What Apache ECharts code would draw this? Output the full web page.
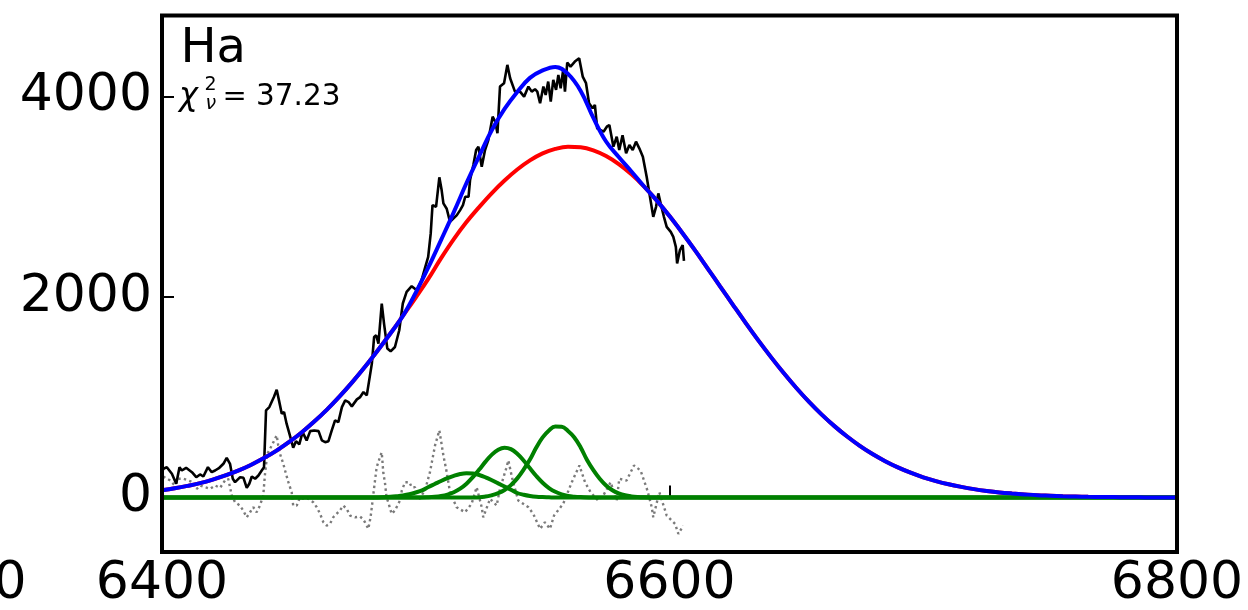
<!DOCTYPE html>
<html>
<head>
<meta charset="utf-8">
<script src="https://cdn.jsdelivr.net/npm/echarts@6/dist/echarts.min.js"></script>
<style>
html,body{margin:0;padding:0;background:#fff;}
#chart{width:1248px;height:610px;}
</style>
</head>
<body>
<div id="chart"></div>
<script>
// ---- observed spectrum (black) ----
var dataWave = [6400.0,6400.6,6401.9,6403.9,6405.6,6406.9,6407.8,6409.5,6411.8,6413.5,6415.0,6416.3,6418.1,6419.6,6420.9,6422.6,6424.2,6425.5,6426.8,6427.9,6428.8,6430.8,6432.1,6433.4,6434.4,6435.4,6436.7,6438.0,6439.3,6440.2,6441.0,6442.3,6443.2,6444.1,6445.2,6446.1,6447.2,6448.1,6449.1,6450.4,6451.7,6452.8,6454.1,6455.4,6457.0,6458.4,6460.0,6461.7,6463.0,6464.3,6465.6,6466.9,6468.2,6469.5,6470.9,6472.2,6473.5,6474.8,6476.8,6478.1,6479.4,6480.7,6482.7,6483.6,6484.4,6485.3,6486.6,6487.5,6488.8,6490.1,6491.8,6493.5,6494.9,6496.4,6498.4,6500.4,6502.3,6503.6,6504.9,6505.9,6506.6,6508.0,6509.3,6510.2,6510.9,6512.2,6513.5,6514.9,6516.2,6517.5,6518.6,6519.5,6520.8,6521.4,6522.7,6523.8,6524.7,6526.0,6527.3,6528.6,6530.3,6531.3,6532.2,6533.2,6534.8,6536.1,6537.2,6539.1,6541.1,6542.7,6544.4,6545.7,6547.0,6547.9,6549.0,6550.3,6551.2,6552.2,6553.2,6554.2,6555.3,6556.2,6557.1,6558.1,6558.8,6559.7,6561.0,6562.7,6564.4,6565.8,6567.1,6568.3,6569.7,6570.6,6571.5,6572.7,6574.0,6575.3,6576.3,6577.9,6579.2,6580.2,6581.5,6582.9,6584.2,6585.5,6586.8,6588.1,6589.5,6591.0,6592.3,6593.6,6594.7,6595.6,6596.5,6597.8,6598.9,6600.5,6601.5,6602.5,6603.0,6604.1,6605.2,6605.7];
var dataFlux = [260,287,303,237,137,303,270,297,253,203,230,210,303,253,270,297,337,397,337,187,153,203,197,97,137,210,187,220,270,303,870,903,953,1003,1077,970,837,853,737,620,497,563,530,653,570,663,670,663,570,553,563,670,770,753,903,970,953,910,980,1003,1053,1020,1337,1603,1620,1537,1937,1737,1487,1460,1503,1670,1937,2053,2110,2070,2170,2287,2403,2637,2920,2903,3197,3070,2937,2883,2753,2787,2820,2870,2920,3003,3003,3170,3320,3470,3503,3303,3470,3570,3803,3753,3637,4103,4137,4320,4187,4053,4053,4003,4103,4053,4077,4053,3937,4103,4020,4153,3953,4170,4070,4220,4087,4270,4053,4343,4303,4353,4387,4203,4137,3937,3887,3920,3687,3670,3653,3703,3720,3503,3603,3470,3617,3437,3520,3470,3553,3487,3403,3203,3003,2803,2903,3037,2937,2803,2703,2653,2603,2503,2337,2470,2520,2363];

// ---- residual (grey dotted) ----
var residWave = [6400.5,6403.2,6405.1,6406.4,6408.4,6410.4,6412.3,6413.7,6415.0,6416.9,6418.9,6420.9,6422.9,6424.8,6426.1,6427.5,6428.8,6430.7,6432.0,6433.4,6434.7,6436.0,6437.3,6438.6,6439.9,6440.6,6441.5,6442.6,6443.9,6445.2,6445.8,6446.5,6447.8,6448.5,6449.8,6451.1,6451.7,6453.1,6454.4,6455.7,6457.7,6459.6,6461.0,6462.3,6463.6,6464.9,6466.2,6467.5,6468.8,6470.1,6471.4,6472.8,6474.1,6476.1,6478.0,6479.1,6480.0,6481.3,6482.2,6483.0,6483.7,6484.6,6485.9,6486.6,6487.2,6487.9,6488.5,6489.2,6490.5,6491.2,6491.8,6493.1,6493.8,6494.5,6495.1,6495.8,6497.5,6498.4,6499.7,6500.4,6501.0,6503.6,6505.6,6507.6,6509.3,6510.9,6512.2,6513.5,6516.1,6519.4,6522.0,6524.0,6526.0,6526.6,6529.3,6531.9,6533.2,6535.6,6536.5,6538.2,6540.4,6544.4,6546.3,6549.0,6550.9,6552.9,6554.5,6558.1,6561.5,6564.5,6566.7,6568.9,6571.9,6573.9,6576.8,6579.2,6580.2,6583.1,6586.0,6588.6,6591.3,6593.0,6593.6,6596.0,6598.9,6602.2,6603.5,6605.4];
var residFlux = [210,170,120,187,187,170,153,87,120,103,87,120,97,170,187,20,-47,-80,-130,-197,-147,-97,-147,-80,20,237,437,487,553,620,520,437,337,270,153,53,-80,-80,3,-13,-13,-47,-97,-163,-247,-280,-263,-197,-163,-130,-80,-113,-180,-197,-190,-213,-247,-313,-197,-30,120,303,403,450,250,140,0,-50,-163,-163,-130,-63,-30,70,87,153,153,103,103,3,-30,70,253,520,670,420,253,53,-97,-147,-63,103,-97,-197,-13,-80,87,287,370,170,-30,-97,-163,-313,-247,-313,-180,-63,153,320,153,53,-30,20,153,-30,187,170,320,270,70,-97,-197,53,-180,-263,-363,-280];

// ---- model wavelength grid (5 A steps, 6400..6800) ----
var modelWave = [6400,6405,6410,6415,6420,6425,6430,6435,6440,6445,6450,6455,6460,6465,6470,6475,6480,6485,6490,6495,6500,
                 6505,6510,6515,6520,6525,6530,6535,6540,6545,6550,6555,6560,6565,6570,6575,6580,6585,6590,6595,6600,
                 6605,6610,6615,6620,6625,6630,6635,6640,6645,6650,6655,6660,6665,6670,6675,6680,6685,6690,6695,6700,
                 6705,6710,6715,6720,6725,6730,6735,6740,6745,6750,6755,6760,6765,6770,6775,6780,6785,6790,6795,6800];
// broad component (red)
var broadFlux = [72,92,116,144,179,220,268,325,391,466,552,649,758,878,1010,1152,1305,1468,1638,1816,1997,
                 2185,2390,2580,2750,2900,3040,3165,3275,3366,3436,3481,3502,3497,3466,3409,3329,3227,3105,2965,2810,
                 2644,2470,2289,2106,1924,1744,1569,1402,1243,1094,955,828,713,609,516,434,363,301,248,202,
                 164,132,106,84,66,51,40,31,23,18,13,10,7,5,4,3,2,1,1,0];
// total model (blue)
var totalFlux = [72,92,116,144,179,220,268,325,391,466,552,649,758,878,1010,1152,1305,1468,1638,1816,2045,
                 2300,2573,2850,3140,3410,3670,3880,4050,4190,4265,4300,4230,4060,3790,3555,3400,3255,3105,2965,2810,
                 2644,2470,2289,2106,1924,1744,1569,1402,1243,1094,955,828,713,609,516,434,363,301,248,202,
                 164,132,106,84,66,51,40,31,23,18,13,10,7,5,4,3,2,1,1,0];

// ---- narrow components (green) ----
var g1Wave = [6400,6485,6490,6492.5,6495,6497.5,6500,6502.5,6505,6507.5,6510,6512.5,6515,6517.5,6520,6522.5,6525,6527.5,6530,6532.5,6535,6537.5,6540,6542.5,6545,6547.5,6550,6552.5,6555,6565,6800];
var g1Flux = [0,0,7,13,21,33,50,71,105,135,165,193,217,235,243,239,225,202,173,141,110,78,45,28,16,8,4,2,0,0,0];
var g2Wave = [6400,6500,6505,6507.5,6510,6512.5,6515,6517.5,6520,6522.5,6525,6527.5,6530,6532.5,6535,6537.5,6540,6542.5,6545,6547.5,6550,6552.5,6555,6557.5,6560,6562.5,6565,6570,6800];
var g2Flux = [0,0,3,7,15,29,52,88,138,203,279,358,428,477,497,483,437,370,292,215,148,95,57,32,16,8,4,0,0];
var g3Wave = [6400,6522,6527.5,6530,6532.5,6535,6537.5,6540,6542.5,6545,6547.5,6550,6552.5,6555,6557.5,6560,6562.5,6565,6567.5,6570,6572.5,6575,6577.5,6580,6582.5,6585,6587.5,6590,6595,6800];
var g3Flux = [0,0,10,23,43,75,124,191,278,379,500,600,670,708,706,665,600,500,375,274,188,121,73,42,22,11,5,2,0,0];

// ---- axes ----
var xTicks = [6400, 6600, 6800];
var yTicks = [0, 2000, 4000];
var xRange = [6400, 6800];
var yRange = [-544, 4813];

function pairs(w, f) { return w.map(function (x, i) { return [x, f[i]]; }); }

var FONT = '"DejaVu Sans", "Liberation Sans", sans-serif';
var chart = echarts.init(document.getElementById('chart'), null, {renderer: 'canvas'});

function lineSeries(w, f, color, width, extra) {
  var s = {
    type: 'line', data: pairs(w, f), showSymbol: false, symbol: 'none',
    lineStyle: {color: color, width: width}, animation: false, silent: true
  };
  for (var k in extra) s[k] = extra[k];
  return s;
}
function plain(v) { return String(v); }

function txt(x, y, text, font) {
  return {type: 'text', x: x, y: y, z: 20, style: {text: text, font: font, fill: '#000', align: 'left', verticalAlign: 'middle', textAlign: 'left', textVerticalAlign: 'middle'}};
}

var option = {
  animation: false,
  backgroundColor: '#fff',
  grid: {left: 162, right: 71, top: 15.5, bottom: 58, show: true, borderColor: '#000', borderWidth: 4, backgroundColor: 'transparent', z: 10},
  xAxis: {
    type: 'value', min: xRange[0], max: xRange[1], interval: 200,
    axisLine: {show: false},
    splitLine: {show: false},
    axisTick: {show: true, inside: true, length: 12, lineStyle: {color: '#000', width: 2}, customValues: xTicks},
    axisLabel: {show: true, customValues: xTicks, formatter: plain, margin: 6, fontSize: 52, fontFamily: FONT, color: '#000', showMinLabel: true, showMaxLabel: true}
  },
  yAxis: {
    type: 'value', min: yRange[0], max: yRange[1],
    axisLine: {show: false},
    splitLine: {show: false},
    axisTick: {show: true, inside: true, length: 12, lineStyle: {color: '#000', width: 2}, customValues: yTicks},
    axisLabel: {show: true, customValues: yTicks, formatter: plain, margin: 10, fontSize: 52, fontFamily: FONT, color: '#000'}
  },
  series: [
    lineSeries(residWave, residFlux, '#808080', 2.4, {lineStyle: {color: '#7a7a7a', width: 2.4, type: [2.4, 3.2], cap: 'butt'}, z: 2}),
    lineSeries(dataWave, dataFlux, '#000000', 2.6, {z: 3}),
    lineSeries(modelWave, broadFlux, '#ff0000', 4, {smooth: 0.4, z: 4}),
    lineSeries(g1Wave, g1Flux, '#008000', 4, {smooth: 0.4, z: 5}),
    lineSeries(g2Wave, g2Flux, '#008000', 4, {smooth: 0.4, z: 5}),
    lineSeries(g3Wave, g3Flux, '#008000', 4, {smooth: 0.4, z: 5}),
    lineSeries(modelWave, totalFlux, '#0000ff', 4, {smooth: 0.4, z: 6})
  ],
  graphic: [
    txt(180.5, 50, 'Ha', '48px ' + FONT),
    txt(179, 97, 'χ', 'italic 32px ' + FONT),
    txt(204.5, 85.4, '2', '19px ' + FONT),
    txt(205.5, 104, 'ν', 'italic 19px ' + FONT),
    txt(222.5, 97, '=', '29px ' + FONT),
    txt(256, 97, '37.23', '29.5px ' + FONT),
    txt(-6.6, 584, '0', '52px ' + FONT)
  ]
};
chart.setOption(option);
</script>
</body>
</html>
